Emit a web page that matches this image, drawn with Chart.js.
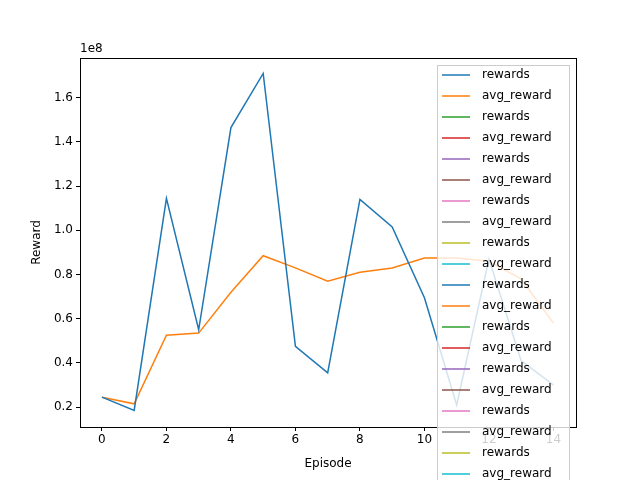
<!DOCTYPE html>
<html><head><meta charset="utf-8">
<script src="https://cdn.jsdelivr.net/npm/chart.js@4"></script>
<style>body{margin:0;background:#fff}#wrap{width:640px;height:480px}</style>
</head><body><div id="wrap"><canvas id="c"></canvas></div>
<script>
// episodios y recompensas
const episodes = [0,1,2,3,4,5,6,7,8,9,10,11,12,13,14];
const rewards = [0.245e8,0.185e8,1.145e8,0.55e8,1.465e8,1.71e8,0.475e8,0.355e8,1.14e8,1.015e8,0.695e8,0.21e8,0.87e8,0.41e8,0.30e8];
const avgReward = [0.245e8,0.215e8,0.525e8,0.535e8,0.72e8,0.885e8,0.83e8,0.77e8,0.81e8,0.83e8,0.875e8,0.875e8,0.86e8,0.78e8,0.58e8];
const xTicks = [0,2,4,6,8,10,12,14];
const yTicks = [0.2,0.4,0.6,0.8,1.0,1.2,1.4,1.6];
const seriesNames = ['rewards','avg_reward'];
const tab10 = ['#1f77b4','#ff7f0e','#2ca02c','#d62728','#9467bd','#8c564b','#e377c2','#7f7f7f','#bcbd22','#17becf'];

const datasets = [];
for (let i = 0; i < 20; i++) {
  const src = i === 0 ? rewards : (i === 1 ? avgReward : []);
  datasets.push({
    label: seriesNames[i % 2],
    data: src.map((v, k) => ({x: episodes[k], y: v})),
    borderColor: tab10[i % 10],
    borderWidth: 1.5,
    pointRadius: 0,
    fill: false,
    tension: 0
  });
}

// marco, títulos y leyenda estilo matplotlib
const mplPlugin = {
  id: 'mpl',
  afterDraw(chart) {
    const ctx = chart.ctx;
    const a = chart.chartArea;
    ctx.save();
    ctx.strokeStyle = '#000';
    ctx.lineWidth = 1;
    ctx.strokeRect(Math.round(a.left) + 0.5, Math.round(a.top) + 0.5, Math.round(a.right - a.left), Math.round(a.bottom - a.top));
    ctx.fillStyle = '#000';
    ctx.font = '12px "DejaVu Sans"';
    ctx.textAlign = 'left';
    ctx.textBaseline = 'alphabetic';
    ctx.fillText('1e8', a.left, a.top - 6);
    ctx.textAlign = 'center';
    ctx.fillText('Episode', (a.left + a.right) / 2, 467);
    ctx.translate(40, (a.top + a.bottom) / 2);
    ctx.rotate(-Math.PI / 2);
    ctx.fillText('Reward', 0, 0);
    ctx.restore();

    const x0 = 437, y0 = 65, w = 132, step = 21;
    ctx.save();
    ctx.fillStyle = 'rgba(255,255,255,0.8)';
    ctx.strokeStyle = '#cccccc';
    ctx.fillRect(x0, y0, w, step * 20 + 10);
    ctx.strokeRect(x0 + 0.5, y0 + 0.5, w, step * 20 + 10);
    ctx.font = '12px "DejaVu Sans"';
    ctx.textBaseline = 'middle';
    chart.data.datasets.forEach((ds, i) => {
      const y = y0 + 10 + i * step;
      ctx.strokeStyle = ds.borderColor;
      ctx.lineWidth = 1.5;
      ctx.beginPath(); ctx.moveTo(x0 + 5, y); ctx.lineTo(x0 + 33, y); ctx.stroke();
      ctx.fillStyle = '#000';
      ctx.fillText(ds.label, x0 + 45, y);
    });
    ctx.restore();
  }
};

new Chart(document.getElementById('c'), {
  type: 'line',
  data: { datasets: datasets },
  options: {
    responsive: true,
    maintainAspectRatio: false,
    animation: false,
    layout: { padding: { top: 58, right: 64, left: 0, bottom: 0 } },
    plugins: { legend: { display: false }, tooltip: { enabled: false } },
    scales: {
      x: {
        type: 'linear', min: -0.68, max: 14.7,
        grid: { display: true, drawOnChartArea: false, drawTicks: true, tickLength: 4, color: '#000' },
        border: { color: '#000' },
        afterBuildTicks: ax => { ax.ticks = xTicks.map(v => ({value: v})); },
        afterFit: ax => { ax.height = 53; },
        ticks: { color: '#000', font: { family: 'DejaVu Sans', size: 12 }, padding: 2, maxRotation: 0 }
      },
      y: {
        min: 0.11e8, max: 1.78e8,
        grid: { display: true, drawOnChartArea: false, drawTicks: true, tickLength: 4, color: '#000' },
        border: { color: '#000' },
        afterBuildTicks: ax => { ax.ticks = yTicks.map(v => ({value: v * 1e8})); },
        afterFit: ax => { ax.width = 80; },
        ticks: {
          color: '#000', font: { family: 'DejaVu Sans', size: 12 }, padding: 3,
          callback: v => (v / 1e8).toFixed(1)
        }
      }
    }
  },
  plugins: [mplPlugin]
});
</script></body></html>
